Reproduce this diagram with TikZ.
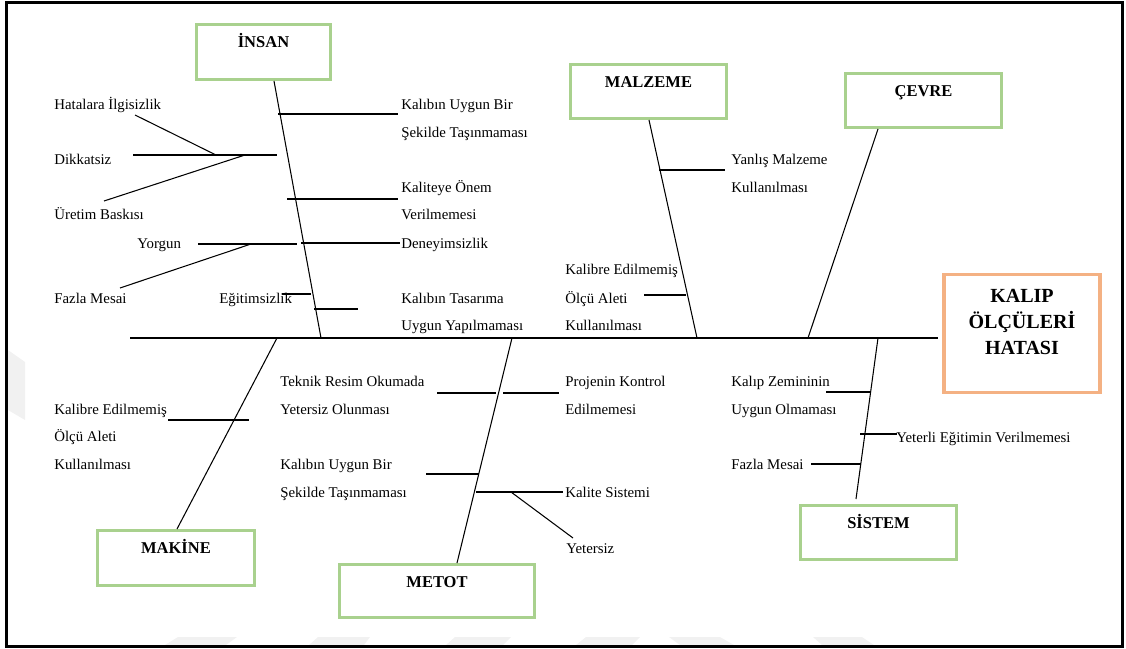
\documentclass[tikz,border=0pt]{standalone}
\usepackage{fontspec}
\setmainfont{Liberation Serif}
\usetikzlibrary{calc}
\definecolor{boxgreen}{HTML}{A9D18E}
\definecolor{boxorange}{HTML}{F4B183}
\definecolor{wmgray}{HTML}{F1F1F1}
\begin{document}
\begin{tikzpicture}[x=0.02cm,y=-0.02cm,
  catbox/.style={draw=boxgreen, line width=1.7pt, inner sep=0pt},
  effectbox/.style={draw=boxorange, line width=2.1pt, inner sep=0pt},
  cattitle/.style={font=\fontsize{9.4pt}{11pt}\selectfont\bfseries, inner sep=0pt, anchor=base},
  effecttitle/.style={font=\fontsize{11.4pt}{14pt}\selectfont\bfseries, inner sep=0pt, anchor=base},
  cause/.style={font=\fontsize{8.45pt}{10pt}\selectfont, inner sep=0pt, anchor=base west},
  bone/.style={line width=0.6pt},
  spine/.style={line width=0.85pt},
  twig/.style={line width=0.6pt},
]
\useasboundingbox (0,0) rectangle (1126,649);

% faint background marks along the lower edge
\fill[wmgray] (165,645) -- (178,637) -- (237,637) -- (226,645) -- cycle;
\fill[wmgray] (309,645) -- (318,637) -- (370,637) -- (364,645) -- cycle;
\fill[wmgray] (446,645) -- (455,637) -- (511,637) -- (503,645) -- cycle;
\fill[wmgray] (576,645) -- (586,637) -- (640,637) -- (632,645) -- cycle;
\fill[wmgray] (669,637) -- (720,637) -- (734,645) -- (680,645) -- cycle;
\fill[wmgray] (813,637) -- (862,637) -- (874,645) -- (822,645) -- cycle;
\fill[wmgray] (8,350) -- (25,362) -- (25,420) -- (8,410) -- cycle;

% outer frame
\draw[line width=1.7pt] (6.5,2.5) rectangle (1122.5,646.5);

% effect box
\node[effectbox, minimum width=3.12cm, minimum height=2.36cm] (effect) at (1022,333.5) {};
\node[effecttitle] (effA) at (1022,302) {KALIP};
\node[effecttitle] (effB) at (1022,328) {ÖLÇÜLERİ};
\node[effecttitle] (effC) at (1022,354) {HATASI};

% category boxes
\node[catbox, minimum width=2.68cm, minimum height=1.10cm] (insan) at (263.5,52) {};
\node[catbox, minimum width=3.12cm, minimum height=1.08cm] (malzeme) at (648.5,91.5) {};
\node[catbox, minimum width=3.12cm, minimum height=1.08cm] (cevre) at (923.5,100.5) {};
\node[catbox, minimum width=3.14cm, minimum height=1.10cm] (makine) at (176,558) {};
\node[catbox, minimum width=3.90cm, minimum height=1.06cm] (metot) at (437,591) {};
\node[catbox, minimum width=3.12cm, minimum height=1.08cm] (sistem) at (878.5,532.5) {};

\node[cattitle] (insanT) at ($(insan.north)+(0,24)$) {İNSAN};
\node[cattitle] (malzemeT) at ($(malzeme.north)+(0,24)$) {MALZEME};
\node[cattitle] (cevreT) at ($(cevre.north)+(0,24)$) {ÇEVRE};
\node[cattitle] (makineT) at ($(makine.north)+(0,24)$) {MAKİNE};
\node[cattitle] (metotT) at ($(metot.north)+(0,24)$) {METOT};
\node[cattitle] (sistemT) at ($(sistem.north)+(0,24)$) {SİSTEM};

% spine
\coordinate (spineL) at (130,338);
\coordinate (spineR) at (938,338);
\draw[spine] (spineL) -- (spineR);

% main bones
\coordinate (jInsan) at (321,338);
\coordinate (jMalzeme) at (697,338);
\coordinate (jCevre) at (808,338);
\coordinate (jMakine) at (277,338);
\coordinate (jMetot) at (512,338);
\coordinate (jSistem) at (878,338);
\coordinate (sistemEnd) at (856,499);
\draw[bone] ($(insan.south)+(10.5,0)$) -- (jInsan);
\draw[bone] ($(malzeme.south)+(0.5,0)$) -- (jMalzeme);
\draw[bone] ($(cevre.south)+(-45.5,0)$) -- (jCevre);
\draw[bone] ($(makine.north)+(1,0)$) -- (jMakine);
\draw[bone] ($(metot.north)+(20,0)$) -- (jMetot);
\draw[bone] (jSistem) -- (sistemEnd);

% İNSAN causes
\draw[twig] (278,114) coordinate (i1a) -- (398,114) coordinate (i1b);
\draw[twig] (133,155) coordinate (i2a) -- (277,155) coordinate (i2b);
\draw[twig] (135,115) coordinate (i3a) -- (216,155) coordinate (i3b);
\draw[twig] (104,201) coordinate (i4a) -- (245,155) coordinate (i4b);
\draw[twig] (287,199) coordinate (i5a) -- (398,199) coordinate (i5b);
\draw[twig] (198,244) coordinate (i6a) -- (297,244) coordinate (i6b);
\draw[twig] (120,288) coordinate (i7a) -- (251,244) coordinate (i7b);
\draw[twig] (301,243) coordinate (i8a) -- (400,243) coordinate (i8b);
\draw[twig] (282,294) coordinate (i9a) -- (311,294) coordinate (i9b);
\draw[twig] (314,309) coordinate (i10a) -- (358,309) coordinate (i10b);

\node[cause] (tHat) at (54,109) {Hatalara İlgisizlik};
\node[cause] (tDik) at (54,164) {Dikkatsiz};
\node[cause] (tUre) at (54,219) {Üretim Baskısı};
\node[cause] (tYor) at (137,248) {Yorgun};
\node[cause] (tFaz) at (54,303) {Fazla Mesai};
\node[cause] (tEgi) at (219,303) {Eğitimsizlik};
\node[cause] (tKub1) at (401,109) {Kalıbın Uygun Bir};
\node[cause] (tKub2) at (401,137) {Şekilde Taşınmaması};
\node[cause] (tKal1) at (401,192) {Kaliteye Önem};
\node[cause] (tKal2) at (401,219) {Verilmemesi};
\node[cause] (tDen) at (401,248) {Deneyimsizlik};
\node[cause] (tTas1) at (401,303) {Kalıbın Tasarıma};
\node[cause] (tTas2) at (401,330) {Uygun Yapılmaması};

% MALZEME causes
\draw[twig] (659,170) coordinate (m1a) -- (725,170) coordinate (m1b);
\draw[twig] (644,295) coordinate (m2a) -- (686,295) coordinate (m2b);
\node[cause] (tYan1) at (731,164) {Yanlış Malzeme};
\node[cause] (tYan2) at (731,192) {Kullanılması};
\node[cause] (tKmA1) at (565,274) {Kalibre Edilmemiş};
\node[cause] (tKmA2) at (565,303) {Ölçü Aleti};
\node[cause] (tKmA3) at (565,330) {Kullanılması};

% MAKİNE causes
\draw[twig] (168,420) coordinate (k1a) -- (249,420) coordinate (k1b);
\node[cause] (tKmB1) at (54,414) {Kalibre Edilmemiş};
\node[cause] (tKmB2) at (54,441) {Ölçü Aleti};
\node[cause] (tKmB3) at (54,469) {Kullanılması};

% METOT causes
\draw[twig] (437,393) coordinate (t1a) -- (496,393) coordinate (t1b);
\draw[twig] (503,393) coordinate (t2a) -- (559,393) coordinate (t2b);
\draw[twig] (426,474) coordinate (t3a) -- (479,474) coordinate (t3b);
\draw[twig] (476,492) coordinate (t4a) -- (563,492) coordinate (t4b);
\draw[twig] (511,492) coordinate (t5a) -- (573,538) coordinate (t5b);
\node[cause] (tTek1) at (280,386) {Teknik Resim Okumada};
\node[cause] (tTek2) at (280,414) {Yetersiz Olunması};
\node[cause] (tKuc1) at (280,469) {Kalıbın Uygun Bir};
\node[cause] (tKuc2) at (280,497) {Şekilde Taşınmaması};
\node[cause] (tPro1) at (565,386) {Projenin Kontrol};
\node[cause] (tPro2) at (565,414) {Edilmemesi};
\node[cause] (tKsi) at (565,497) {Kalite Sistemi};
\node[cause] (tYet) at (566,553) {Yetersiz};

% SİSTEM causes
\draw[twig] (826,392) coordinate (s1a) -- (871,392) coordinate (s1b);
\draw[twig] (860,434) coordinate (s2a) -- (897,434) coordinate (s2b);
\draw[twig] (811,464) coordinate (s3a) -- (861,464) coordinate (s3b);
\node[cause] (tZem1) at (731,386) {Kalıp Zemininin};
\node[cause] (tZem2) at (731,414) {Uygun Olmaması};
\node[cause] (tYeg) at (896,442) {Yeterli Eğitimin Verilmemesi};
\node[cause] (tFaz2) at (731,469) {Fazla Mesai};
\end{tikzpicture}
\end{document}
